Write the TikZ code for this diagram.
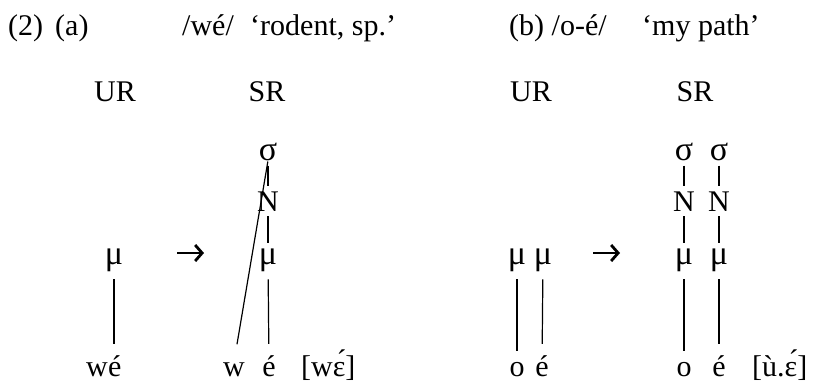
\documentclass[tikz,border=0pt]{standalone}
\usepackage{fontspec}
\setmainfont{Liberation Serif}
\usetikzlibrary{arrows.meta, positioning}

\begin{document}
\begin{tikzpicture}[x=1pt, y=-1pt,
    every node/.style={font=\fontsize{30}{36}\selectfont, inner sep=0pt},
    tier/.style={anchor=base},
    greek/.style={anchor=base, font=\fontsize{34}{40}\selectfont},
    tie/.style={line width=1.2pt, shorten <=5pt, shorten >=5pt},
    link/.style={line width=1.2pt, shorten <=8pt, shorten >=11pt},
    rewrite/.style={line width=2.8pt, -{Straight Barb[length=7pt, width=16pt, line width=2.8pt]}}]
    \useasboundingbox (0,0) rectangle (818,381);

    % Header
    \node[anchor=base west] (num) at (8, 35) {(2)};
    \node[anchor=base west] (exa) at (55, 35) {(a)};
    \node[anchor=base west] (formA) at (182, 35) {/wé/};
    \node[anchor=base west] (glossA) at (250, 35) {‘rodent, sp.’};
    \node[anchor=base west] (exb) at (509, 35) {(b) /o-é/};
    \node[anchor=base west] (glossB) at (642, 35) {‘my path’};

    \node[tier] (urA) at (115, 101) {UR};
    \node[tier] (srA) at (267, 101) {SR};
    \node[tier] (urB) at (531, 101) {UR};
    \node[tier] (srB) at (695, 101) {SR};

    % (a) UR
    \node[greek] (muA) at (114, 264) {μ};
    \node[anchor=base east] (wA) at (108, 376) {w};
    \node[anchor=base west] (eA) at (wA.base east) {é};
    \draw[link] (muA) -- (muA |- eA.north);

    \coordinate (arrA1) at (177, 253);
    \coordinate (arrA2) at (204, 253);
    \draw[rewrite] (arrA1) -- (arrA2);

    % (a) SR
    \node[greek] (sigB) at (268, 160) {σ};
    \node[tier] (nB) at (268, 211) {N};
    \node[greek] (muB) at (268, 264) {μ};
    \node[tier] (wB) at (234, 376) {w};
    \node[tier] (eB) at (269, 376) {é};
    \node[anchor=base west] (srfA) at (301, 376) {[wɛ́]};
    \draw[tie] (sigB) -- (nB);
    \draw[tie] (nB) -- (muB);
    \draw[link] (muB) -- (eB);
    \draw[line width=1.2pt, shorten <=1pt, shorten >=18pt] (sigB.south) -- (wB.north);

    % (b) UR
    \node[greek] (muC) at (517, 264) {μ};
    \node[greek] (muD) at (543, 264) {μ};
    \node[tier] (oC) at (517, 376) {o};
    \node[tier] (eD) at (542, 376) {é};
    \draw[link] (muC) -- (oC);
    \draw[link] (muD) -- (eD);

    \coordinate (arrB1) at (593, 253);
    \coordinate (arrB2) at (620, 253);
    \draw[rewrite] (arrB1) -- (arrB2);

    % (b) SR
    \node[greek] (sigE) at (684, 160) {σ};
    \node[greek] (sigF) at (719, 160) {σ};
    \node[tier] (nE) at (684, 211) {N};
    \node[tier] (nF) at (719, 211) {N};
    \node[greek] (muE) at (684, 264) {μ};
    \node[greek] (muF) at (719, 264) {μ};
    \node[tier] (oE) at (684, 376) {o};
    \node[tier] (eF) at (719, 376) {é};
    \node[anchor=base west] (srfB) at (752, 376) {[ù.ɛ́]};
    \draw[tie] (sigE) -- (nE);
    \draw[tie] (nE) -- (muE);
    \draw[link] (muE) -- (oE);
    \draw[tie] (sigF) -- (nF);
    \draw[tie] (nF) -- (muF);
    \draw[link] (muF) -- (eF);
\end{tikzpicture}
\end{document}
